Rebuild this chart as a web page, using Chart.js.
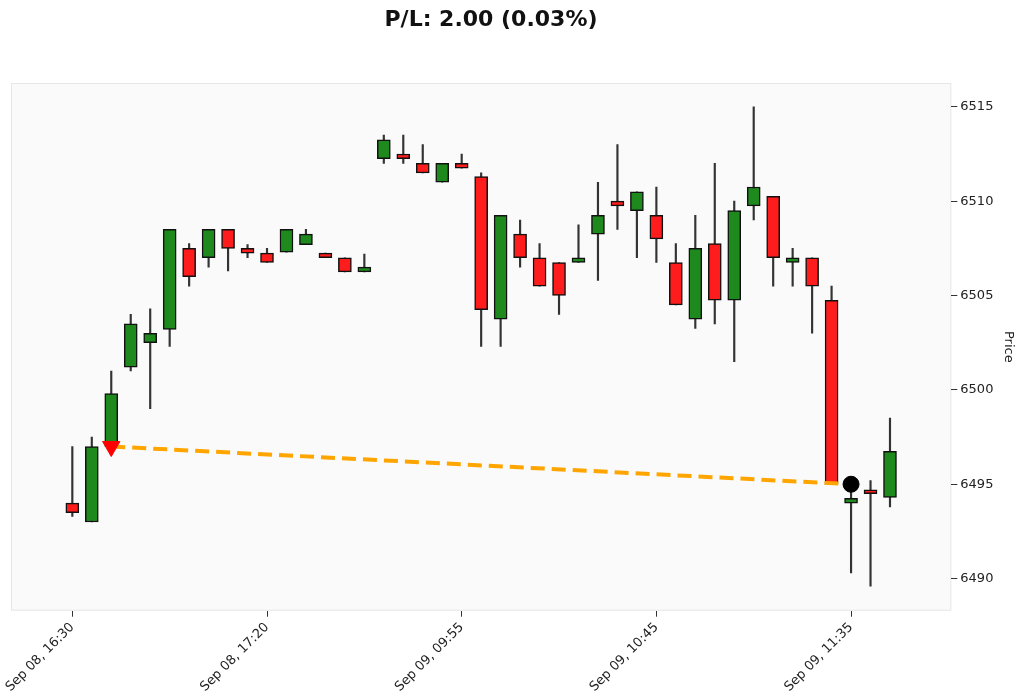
<!DOCTYPE html>
<html><head><meta charset="utf-8">
<script src="https://cdn.jsdelivr.net/npm/chart.js@4"></script>
<style>html,body{margin:0;padding:0;background:#fff;}#wrap{position:relative;width:1024px;height:698px;}
#t{position:absolute;top:6px;left:0;width:982px;text-align:center;font:bold 22px "DejaVu Sans",sans-serif;color:#111;}</style>
</head><body><div id="wrap"><div id="t">P/L: 2.00 (0.03%)</div><canvas id="c" width="1024" height="698"></canvas></div>
<script>
const labels=["Sep 08, 16:30","Sep 08, 16:35","Sep 08, 16:40","Sep 08, 16:45","Sep 08, 16:50","Sep 08, 16:55","Sep 08, 17:00","Sep 08, 17:05","Sep 08, 17:10","Sep 08, 17:15",
"Sep 08, 17:20","Sep 08, 17:25","Sep 08, 17:30","Sep 08, 17:35","Sep 08, 17:40","Sep 08, 17:45","Sep 08, 17:50","Sep 08, 17:55","Sep 08, 18:00","Sep 08, 18:05",
"Sep 09, 09:55","Sep 09, 10:00","Sep 09, 10:05","Sep 09, 10:10","Sep 09, 10:15","Sep 09, 10:20","Sep 09, 10:25","Sep 09, 10:30","Sep 09, 10:35","Sep 09, 10:40",
"Sep 09, 10:45","Sep 09, 10:50","Sep 09, 10:55","Sep 09, 11:00","Sep 09, 11:05","Sep 09, 11:10","Sep 09, 11:15","Sep 09, 11:20","Sep 09, 11:25","Sep 09, 11:30",
"Sep 09, 11:35","Sep 09, 11:40","Sep 09, 11:45"];
const opens =[6494.0,6493.0,6497.0,6501.2,6502.5,6503.2,6507.5,6507.0,6508.5,6507.5,6507.25,6507.3,6507.7,6507.25,6507.0,6506.25,6512.25,6512.5,6512.0,6511.0,6512.0,6511.3,6503.75,6508.25,6507.0,6506.75,6506.75,6508.25,6510.0,6509.5,6509.25,6506.75,6503.75,6507.75,6504.75,6509.75,6510.25,6506.75,6507.0,6504.75,6494.0,6494.7,6494.3];
const closes=[6493.5,6497.0,6499.8,6503.5,6503.0,6508.5,6506.0,6508.5,6507.5,6507.25,6506.75,6508.5,6508.25,6507.0,6506.25,6506.5,6513.25,6512.25,6511.5,6512.0,6511.75,6504.25,6509.25,6507.0,6505.5,6505.0,6507.0,6509.25,6509.75,6510.5,6508.0,6504.5,6507.5,6504.75,6509.5,6510.75,6507.0,6507.0,6505.5,6495.0,6494.25,6494.5,6496.75];
const highs =[6497.0,6497.5,6501.0,6504.0,6504.3,6508.5,6507.75,6508.5,6508.5,6507.7,6507.5,6508.5,6508.5,6507.25,6507.0,6507.2,6513.5,6513.5,6513.0,6512.0,6512.5,6511.5,6509.25,6509.0,6507.75,6506.75,6508.75,6511.0,6513.0,6510.5,6510.75,6507.75,6509.25,6512.0,6510.0,6515.0,6510.25,6507.5,6507.0,6505.5,6495.0,6495.2,6498.5];
const lows  =[6493.3,6493.0,6497.0,6501.0,6499.0,6502.3,6505.5,6506.5,6506.3,6507.0,6506.75,6507.3,6507.7,6507.0,6506.25,6506.25,6512.0,6512.0,6511.5,6511.0,6511.75,6502.3,6502.3,6506.5,6505.5,6504.0,6506.75,6505.8,6508.5,6507.0,6506.75,6504.5,6503.25,6503.5,6501.5,6509.0,6505.5,6505.5,6503.0,6495.0,6490.3,6489.6,6493.8];
const entry={i:2,price:6497.0}, exit={i:40,price:6495.0};
const yTicks=[6490,6495,6500,6505,6510,6515];
const xTickIdx=[0,10,20,30,40];

const idx=labels.map((_,i)=>i);
const plotBg={id:'plotBg',beforeDraw(ch){const a=ch.chartArea,x=ch.ctx;x.save();x.fillStyle='#fafafa';x.fillRect(a.left,a.top,a.width,a.height);x.strokeStyle='#e6e6e6';x.lineWidth=1;x.strokeRect(a.left+.5,a.top+.5,a.width-1,a.height-1);x.restore();}};
new Chart(document.getElementById('c'),{
 type:'bar',
 data:{datasets:[
  {type:'line',data:[{x:entry.i,y:entry.price},{x:exit.i,y:exit.price}],borderColor:'#ffa500',borderWidth:4,borderDash:[14,7],pointRadius:0,order:1},
  {type:'scatter',data:[{x:entry.i,y:entry.price}],pointStyle:'triangle',rotation:180,pointRadius:10,backgroundColor:'#ff0000',borderColor:'#ff0000',order:0},
  {type:'scatter',data:[{x:exit.i,y:exit.price}],pointStyle:'circle',pointRadius:8,backgroundColor:'#000',borderColor:'#000',order:0},
  {data:idx.map(i=>({x:i,y:[opens[i],closes[i]]})),backgroundColor:c=>closes[c.dataIndex]>=opens[c.dataIndex]?'#1e8a1e':'#ff1c1c',borderColor:'#111',borderWidth:1.5,borderSkipped:false,barThickness:13,grouped:false,order:2},
  {data:idx.map(i=>({x:i,y:[lows[i],highs[i]]})),backgroundColor:'#333',borderWidth:0,barThickness:1.5,grouped:false,order:3}
 ]},
 options:{animation:false,responsive:false,
  layout:{padding:{left:10,right:4,top:83,bottom:0}},
  plugins:{legend:{display:false},tooltip:{enabled:false}},
  scales:{
   x:{type:'linear',min:-3.15,max:45.15,offset:false,
    afterBuildTicks:s=>{s.ticks=xTickIdx.map(v=>({value:v}));},
    ticks:{callback:v=>labels[v],maxRotation:45,minRotation:45,font:{family:'DejaVu Sans',size:13},color:'#222',autoSkip:false},
    grid:{offset:false,drawOnChartArea:false,drawTicks:true,tickLength:6,color:'#333'},border:{display:false}},
   y:{position:'right',min:6488.3,max:6516.26,
    afterBuildTicks:s=>{s.ticks=yTicks.map(v=>({value:v}));},
    ticks:{callback:v=>String(v),font:{family:'DejaVu Sans',size:13},color:'#222'},
    title:{display:true,text:'Price',font:{family:'DejaVu Sans',size:13},color:'#222'},
    grid:{drawOnChartArea:false,drawTicks:true,tickLength:6,color:'#333'},border:{display:false}}
  }},
 plugins:[plotBg]
});
</script></body></html>
